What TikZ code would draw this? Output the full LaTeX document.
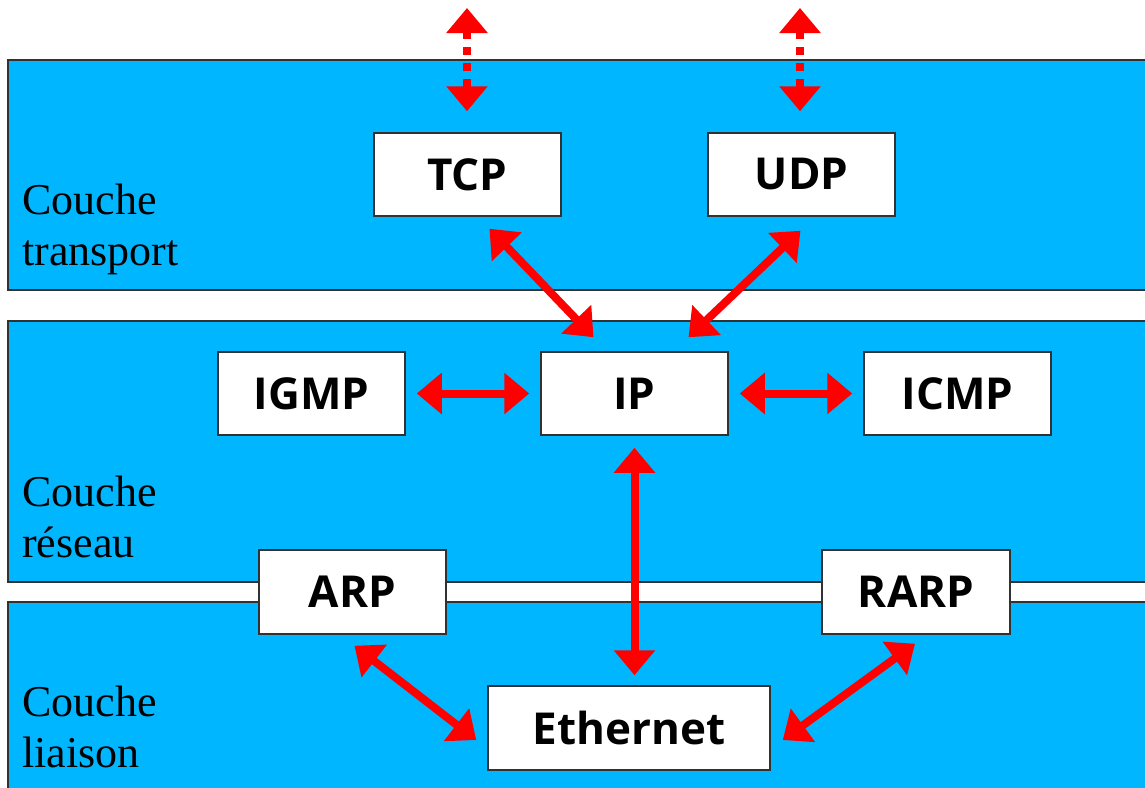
\documentclass[tikz,border=0pt]{standalone}
\usepackage{fontspec}
\setmainfont{Liberation Serif}
\newfontfamily\boxfont{Open Sans}
\usetikzlibrary{arrows.meta,calc}
\definecolor{bandcyan}{RGB}{0,183,255}
\definecolor{bandline}{RGB}{50,50,50}
\tikzset{
  band/.style={fill=bandcyan,draw=bandline,line width=1.5pt},
  proto/.style={draw=bandline,fill=white,line width=1.5pt,minimum width=187pt,minimum height=83pt,inner sep=0pt,font=\boxfont\bfseries\fontsize{44}{50}\selectfont},
  link/.style={draw=red,line width=8pt,{Triangle[width=40pt,length=25pt]}-{Triangle[width=40pt,length=25pt]}},
  dlink/.style={link,dash pattern=on 8pt off 8pt},
  layerlabel/.style={anchor=base west,align=left,inner sep=0pt,font=\fontsize{44}{51}\selectfont}
}
\begin{document}
\begin{tikzpicture}[x=1pt,y=-1pt]
\useasboundingbox (0,0) rectangle (1145,787);
\clip (0,0) rectangle (1145,787);
% bands
\draw[band] (8,60) rectangle (1160,290);
\draw[band] (8,321) rectangle (1160,582);
\draw[band] (8,602) rectangle (1160,800);
% labels
\node[layerlabel] (lt) at (22,265) {Couche\\transport};
\node[layerlabel] (lr) at (22,557) {Couche\\réseau};
\node[layerlabel] (ll) at (22,767) {Couche\\liaison};
% protocol boxes
\node[proto] (TCP) at (467.5,174.5) {TCP};
\node[proto] (UDP) at (801.5,174.5) {UDP};
\node[proto] (IGMP) at (311.5,393.5) {IGMP};
\node[proto] (IP) at (634.5,393.5) {IP};
\node[proto] (ICMP) at (957.5,393.5) {ICMP};
\node[proto,minimum height=84pt] (ARP) at (352.5,592) {ARP};
\node[proto,minimum height=84pt,minimum width=188pt] (RARP) at (916,592) {RARP};
\node[proto,minimum height=84pt,minimum width=282pt] (ETH) at (629,728) {Ethernet};
% free ends of the upper arrows
\coordinate (tcpTop) at (467,8);
\coordinate (udpTop) at (800,8);
% arrows
\draw[dlink] (tcpTop) -- ($(TCP.north)+(-0.5,-21)$);
\draw[dlink] (udpTop) -- ($(UDP.north)+(-1.5,-21)$);
\draw[link] ($(TCP.south)+(22,12)$) -- ($(IP.north)+(-41,-14)$);
\draw[link] ($(UDP.south)+(-1,14)$) -- ($(IP.north)+(54,-14)$);
\draw[link] ($(IGMP.east)+(11,0)$) -- ($(IP.west)+(-11,0)$);
\draw[link] ($(IP.east)+(11,0)$) -- ($(ICMP.west)+(-11,0)$);
\draw[link] ($(IP.south)+(0,12)$) -- ($(IP.south |- ETH.north)+(0,-10)$);
\draw[link] ($(ARP.south)+(2,11)$) -- ($(ETH.west)+(-11,12)$);
\draw[link] ($(RARP.south)+(-1,9)$) -- ($(ETH.east)+(12,12)$);
\end{tikzpicture}
\end{document}
